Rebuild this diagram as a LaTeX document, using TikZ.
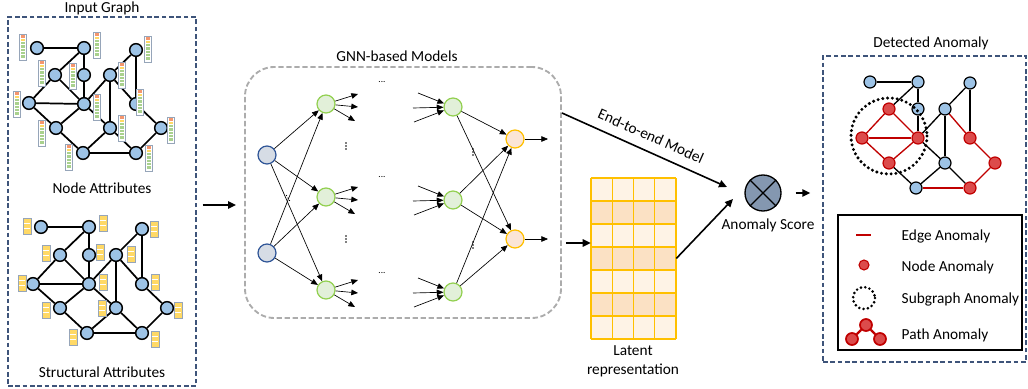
\documentclass[tikz,border=0pt]{standalone}
\usepackage{fontspec}
\setmainfont{Carlito}
\usetikzlibrary{arrows.meta,calc,fit}
\definecolor{boxblue}{RGB}{62,84,122}
\definecolor{nodeblue}{RGB}{157,195,230}
\definecolor{gnnin}{RGB}{214,220,229}
\definecolor{gnninb}{RGB}{47,85,151}
\definecolor{gfill}{RGB}{226,240,217}
\definecolor{gbord}{RGB}{146,208,80}
\definecolor{ofill}{RGB}{251,229,214}
\definecolor{obord}{RGB}{255,192,0}
\definecolor{latA}{RGB}{254,243,230}
\definecolor{latB}{RGB}{251,225,196}
\definecolor{scorefill}{RGB}{132,151,176}
\definecolor{anred}{RGB}{192,0,0}
\definecolor{anfill}{RGB}{220,75,75}
\definecolor{attrorange}{RGB}{244,150,110}
\definecolor{attrgreen}{RGB}{169,209,142}
\definecolor{attryel}{RGB}{255,217,102}
\definecolor{attrbord}{RGB}{150,165,185}
\pgfdeclarelayer{bg}\pgfsetlayers{bg,main}
\tikzset{
  gnode/.style={circle,draw=black,line width=1.1pt,fill=nodeblue,minimum size=9.5pt,inner sep=0pt},
  gedge/.style={black,line width=1.3pt},
  dnode/.style={circle,draw=black,line width=0.9pt,fill=nodeblue,minimum size=9pt,inner sep=0pt},
  rnode/.style={dnode,draw=anred,fill=anfill},
  dedge/.style={black,line width=1pt},
  redge/.style={anred,line width=1pt},
  nn/.style={circle,minimum size=13.5pt,inner sep=0pt,line width=0.9pt},
  fan/.style={line width=0.5pt,-{Triangle[length=5pt,width=4.2pt]}},
  bigarr/.style={line width=1.2pt,-{Triangle[length=6pt,width=5.5pt]}},
  dbox/.style={draw=boxblue,line width=1pt,dash pattern=on 3.5pt off 2pt,inner sep=0pt},
  lbl/.style={font=\fontsize{11.5}{14}\selectfont},
  dotsl/.style={font=\fontsize{7}{7}\selectfont,inner sep=0pt},
}
\begin{document}
\begin{tikzpicture}[x=0.75pt,y=-0.75pt,lbl]
\useasboundingbox (0,0) rectangle (1028,389);

% ---------- Input graph box ----------
\node[dbox,fit={(8,17) (196,386)}] (inbox) {};
\node[lbl] (tin) at (102,8) {Input Graph};
\node[lbl] (tna) at (102,188) {Node Attributes};
\node[lbl] (tsa) at (102,372) {Structural Attributes};

% top graph
\foreach \i/\x/\y in {1/37/48,2/84/48,3/136/50,4/55/75,5/84/75,6/110/75,7/29/103,8/84/104,9/136/104,10/56/128,11/110/128,12/161/128,13/83/153,14/136/153}
  \node[gnode] (A\i) at (\x,\y) {};
% bottom graph
\foreach \i/\x/\y in {1/41/227,2/89/227,3/142/229,4/60/255,5/89/255,6/116/255,7/33/284,8/89/284,9/142/284,10/60/308,11/116/308,12/167/308,13/87/333,14/142/333}
  \node[gnode] (B\i) at (\x,\y) {};
\begin{pgfonlayer}{bg}
\foreach \a/\b in {1/2,2/4,2/5,5/8,4/7,4/8,7/8,7/10,10/8,8/6,6/3,3/9,6/11,6/9,8/11,9/12,12/14,11/14,11/13,10/13,13/14}{
  \draw[gedge] (A\a) -- (A\b);
  \draw[gedge] (B\a) -- (B\b);
}
\end{pgfonlayer}

% node attribute bars
\foreach \x/\y in {23/47,97/45,148/49,42/73,73/76,122/75,17/104,97/107,140/102,42/133,122/128,171/130,69/157,149/158}{
  \draw[attrbord,line width=0.5pt,fill=white] (\x-3.5,\y-13) rectangle (\x+3.5,\y+13);
  \foreach \k/\c in {0/attrorange,1/attryel,2/attrgreen,3/attrgreen,4/attrgreen,5/attrgreen,6/attrgreen}
    \fill[\c] (\x-2.2,\y-11.6+\k*3.3) rectangle (\x+2.2,\y-11.6+\k*3.3+2.4);
}
% structural attribute bars
\foreach \x/\y in {27/226,103/223,154/229,46/253,100/252,131/254,22/283,103/282,155/282,46/310,102/308,178/310,73/337,155/339}{
  \draw[attrbord,line width=0.5pt,fill=attryel] (\x-4,\y-8) rectangle (\x+4,\y+8);
  \draw[white,line width=0.8pt] (\x-3.3,\y-2.7) -- (\x+3.3,\y-2.7) (\x-3.3,\y+2.7) -- (\x+3.3,\y+2.7);
}

% ---------- GNN box ----------
\node[fit={(245,67) (561,318)},inner sep=0pt,draw=gray!65,line width=1.4pt,dash pattern=on 4pt off 2pt,rounded corners=22pt] (gnnbox) {};
\node[lbl] (tgnn) at (397,56) {GNN-based Models};

\node[nn,draw=gnninb,fill=gnnin] (I1) at (267,155) {};
\node[nn,draw=gnninb,fill=gnnin] (I2) at (267,253) {};
\node[nn,draw=gbord,fill=gfill] (L1a) at (326,104) {};
\node[nn,draw=gbord,fill=gfill] (L1b) at (326,197) {};
\node[nn,draw=gbord,fill=gfill] (L1c) at (326,290) {};
\node[nn,draw=gbord,fill=gfill] (L2a) at (453,107) {};
\node[nn,draw=gbord,fill=gfill] (L2b) at (453,200) {};
\node[nn,draw=gbord,fill=gfill] (L2c) at (453,292) {};
\node[nn,draw=obord,fill=ofill] (Oa) at (515,139) {};
\node[nn,draw=obord,fill=ofill] (Ob) at (515,239) {};

\foreach \s in {I1,I2}
  \foreach \t in {L1a,L1b,L1c}
    \draw[fan] (\s) -- (\t);
\foreach \s in {L2a,L2b,L2c}
  \foreach \t in {Oa,Ob}
    \draw[fan] (\s) -- (\t);
\foreach \n in {a,b,c}{
  \foreach \k/\dx/\dy in {1/32/-10,2/32/3,3/29/17}{
    \coordinate (L1\n o\k) at ($(L1\n)+(\dx,\dy)$);
    \draw[fan] (L1\n) -- (L1\n o\k);
  }
  \foreach \k/\dx/\dy in {1/-35/-14,2/-40/1,3/-39/15}{
    \coordinate (L2\n i\k) at ($(L2\n)+(\dx,\dy)$);
    \draw[fan] (L2\n i\k) -- (L2\n);
  }
}
\coordinate (Oao) at (548,139);
\coordinate (Obo) at (548,239);
\draw[fan] (Oa) -- (Oao);
\draw[fan] (Ob) -- (Obo);

% ellipsis marks
\foreach \x/\y in {382/82,382/177,382/273} \node[dotsl] at (\x,\y) {...};
\foreach \x/\y in {346/146,346/239,473/152,473/245}
  \foreach \d in {-3,0,3} \fill (\x,\y+\d) circle[radius=0.9];
\foreach \d in {-2.5,0,2.5} \fill (288+0.6*\d,198+\d) circle[radius=0.7];

% ---------- latent representation ----------
\node[fit={(591,178) (676,339)},inner sep=0pt] (latent) {};
\foreach \r/\c in {0/latA,1/latB,2/latA,3/latB,4/latA,5/latB,6/latA}
  \fill[\c] (591,178+\r*23) rectangle (676,178+\r*23+23);
\foreach \k in {0,...,4} \draw[obord,line width=0.9pt] (591+\k*21.25,178) -- (591+\k*21.25,339);
\foreach \r in {0,...,7} \draw[obord,line width=0.9pt] (591,178+\r*23) -- (676,178+\r*23);
\node[lbl,align=center] (tlat) at (633,361) {Latent\\representation};

% ---------- anomaly score ----------
\node[circle,draw=black,line width=1pt,fill=scorefill,minimum size=27pt,inner sep=0pt] (score) at (763,193) {};
\draw[line width=1pt] (score.north west) -- (score.south east) (score.north east) -- (score.south west);
\node[lbl] (tscore) at (768,225) {Anomaly Score};

% ---------- main arrows ----------
\draw[bigarr,shorten <=4.5pt,shorten >=6pt] (inbox.east |- 0,205) -- (gnnbox.west |- 0,205);
\draw[bigarr,shorten <=3pt] (gnnbox.east |- 0,243) -- (latent.west |- 0,243);
\coordinate (e2es) at (562,113);
\coordinate (e2ee) at (727,187);
\draw[bigarr] (e2es) -- (e2ee);
\node[lbl,rotate=-24,inner sep=1pt] (te2e) at (651,136) {End-to-end Model};
\coordinate (late) at (733,199);
\draw[bigarr] (latent.east) -- (late);

% ---------- detected anomaly ----------
\node[dbox,fit={(823,56) (1026,362)}] (detbox) {};
\node[lbl] (tdet) at (931,43) {Detected Anomaly};
\draw[bigarr,shorten <=10.5pt,shorten >=9pt] (score.east) -- (score.east -| detbox.west);

\foreach \i/\x/\y in {1/870/82,2/918/82,3/970/83,5/918/109,6/945/109,11/945/163,13/916/188}
  \node[dnode] (C\i) at (\x,\y) {};
\foreach \i/\x/\y in {4/889/109,7/862/138,8/918/138,9/970/138,10/889/163,12/995/163,14/970/188}
  \node[rnode] (C\i) at (\x,\y) {};
\begin{pgfonlayer}{bg}
\foreach \a/\b in {1/2,2/4,2/5,5/8,8/6,6/3,3/9,6/11,8/11,11/14,11/13,10/13}
  \draw[dedge] (C\a) -- (C\b);
\foreach \a/\b in {4/7,4/8,7/8,7/10,10/8,6/9,9/12,12/14,13/14}
  \draw[redge] (C\a) -- (C\b);
\end{pgfonlayer}
\draw[line width=2.5pt,dash pattern=on 0pt off 3.6pt,line cap=round] (889,136) circle[radius=38];

% legend
\node[fit={(838,215) (1022,350)},inner sep=0pt,draw=black,line width=1pt] (legend) {};
\coordinate (le1) at (856,235);
\coordinate (le2) at (871,235);
\draw[anred,line width=1.8pt] (le1) -- (le2);
\node[circle,draw=anred,fill=anfill,line width=0.8pt,minimum size=7.5pt,inner sep=0pt] (lnode) at (864,265) {};
\draw[line width=2.2pt,dash pattern=on 0pt off 3.3pt,line cap=round] (864,298) circle[radius=11];
\node[circle,draw=anred,fill=anfill,line width=1.3pt,minimum size=9pt,inner sep=0pt] (lp1) at (852,339) {};
\node[circle,draw=anred,fill=anfill,line width=1.3pt,minimum size=9pt,inner sep=0pt] (lp2) at (866,325) {};
\node[circle,draw=anred,fill=anfill,line width=1.3pt,minimum size=9pt,inner sep=0pt] (lp3) at (880,339) {};
\draw[anred,line width=1.8pt] (lp1) -- (lp2) -- (lp3);
\node[lbl,anchor=west] (l1) at (897,236) {Edge Anomaly};
\node[lbl,anchor=west] (l2) at (897,267) {Node Anomaly};
\node[lbl,anchor=west] (l3) at (897,299) {Subgraph Anomaly};
\node[lbl,anchor=west] (l4) at (897,335) {Path Anomaly};
\end{tikzpicture}
\end{document}
